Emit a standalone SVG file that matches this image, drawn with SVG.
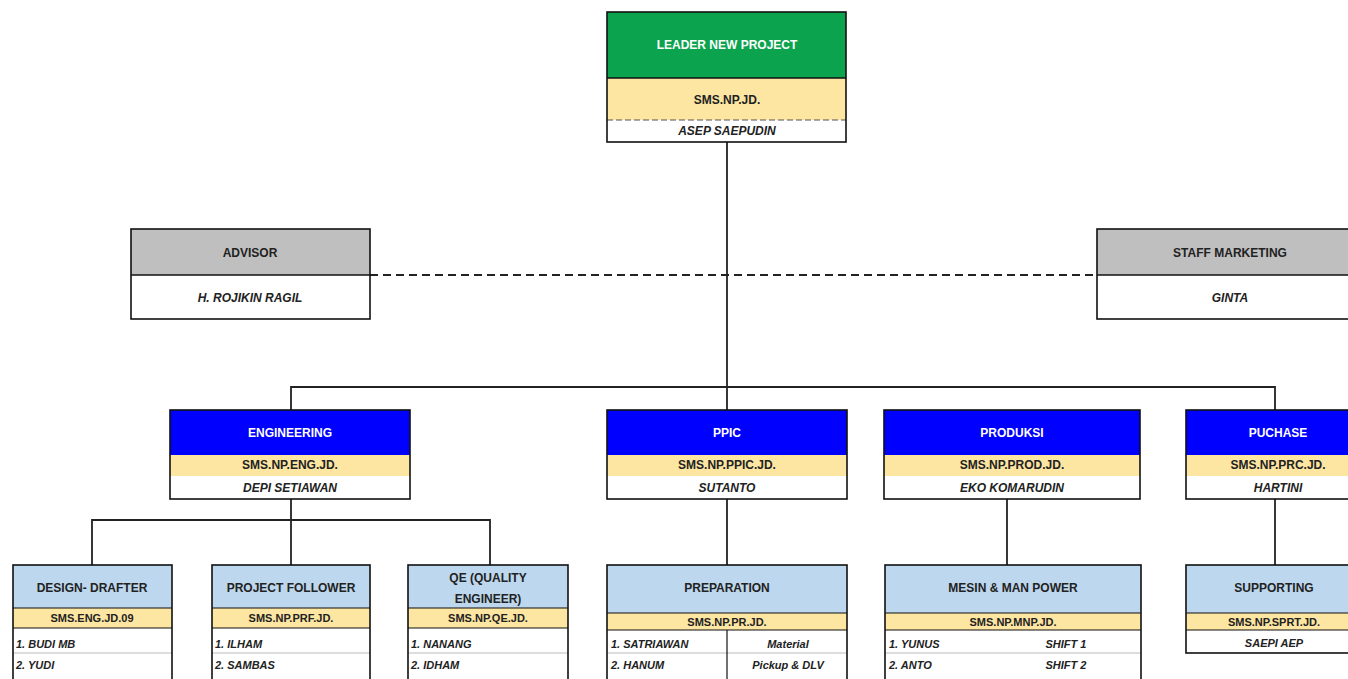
<svg xmlns="http://www.w3.org/2000/svg" width="1348" height="679" viewBox="0 0 1348 679">
<style>
.b{stroke:#111;stroke-width:1.6;fill:none}
.g{fill:#0BA34E}.y{fill:#FDE6A2}.w{fill:#fff}.gr{fill:#BFBFBF}.bl{fill:#0000FF}.lb{fill:#BDD7EE}
.t{font-family:"Liberation Sans",Arial,sans-serif;font-weight:bold;font-size:12px;text-anchor:middle;fill:#222}
.tw{fill:#fff}
.i{font-style:italic}
.s{font-size:11px}
.l{text-anchor:start}
.c{stroke:#222;stroke-width:1.8;fill:none}
.d{stroke:#222;stroke-width:1.8;fill:none;stroke-dasharray:8,5}
.sep{stroke:#bbb;stroke-width:1}
.ds{stroke:#555;stroke-width:1;stroke-dasharray:6,3}
</style>
<rect width="1348" height="679" fill="#fff"/>
<g id="connectors">
<line class="c" x1="727" y1="142" x2="727" y2="565"/>
<line class="d" x1="370" y1="275" x2="1097" y2="275"/>
<polyline class="c" points="291,410 291,387 1275,387 1275,410"/>
<line class="c" x1="291" y1="499" x2="291" y2="565"/>
<polyline class="c" points="92,565 92,520 490,520 490,565"/>
<line class="c" x1="1007" y1="499" x2="1007" y2="565"/>
<line class="c" x1="1275" y1="499" x2="1275" y2="565"/>
</g>
<g id="leader">
<rect class="g" x="607" y="12" width="239" height="66"/>
<rect class="y" x="607" y="78" width="239" height="42"/>
<rect class="w" x="607" y="120" width="239" height="22"/>
<line class="ds" x1="607" y1="120" x2="846" y2="120"/>
<line x1="607" y1="78" x2="846" y2="78" stroke="#111" stroke-width="1.4"/>
<rect class="b" x="607" y="12" width="239" height="130"/>
<text class="t tw" x="727" y="49">LEADER NEW PROJECT</text>
<text class="t" x="727" y="104">SMS.NP.JD.</text>
<text class="t i" x="727" y="135">ASEP SAEPUDIN</text>
</g>
<g id="advisor">
<rect class="gr" x="131" y="229" width="239" height="46"/>
<rect class="w" x="131" y="275" width="239" height="44"/>
<line x1="131" y1="275" x2="370" y2="275" stroke="#111" stroke-width="1.6"/>
<rect class="b" x="131" y="229" width="239" height="90"/>
<text class="t" x="250" y="257">ADVISOR</text>
<text class="t i" x="250" y="302">H. ROJIKIN RAGIL</text>
</g>
<g id="staff-marketing">
<rect class="gr" x="1097" y="229" width="266" height="46"/>
<rect class="w" x="1097" y="275" width="266" height="44"/>
<line x1="1097" y1="275" x2="1363" y2="275" stroke="#111" stroke-width="1.6"/>
<rect class="b" x="1097" y="229" width="266" height="90"/>
<text class="t" x="1230" y="257">STAFF MARKETING</text>
<text class="t i" x="1230" y="302">GINTA</text>
</g>
<g id="engineering">
<rect class="bl" x="170" y="410" width="240" height="45"/>
<rect class="y" x="170" y="455" width="240" height="21"/>
<rect class="w" x="170" y="476" width="240" height="23"/>
<rect class="b" x="170" y="410" width="240" height="89"/>
<text class="t tw" x="290" y="437">ENGINEERING</text>
<text class="t" x="290" y="469">SMS.NP.ENG.JD.</text>
<text class="t i" x="290" y="492">DEPI SETIAWAN</text>
</g>
<g id="ppic">
<rect class="bl" x="607" y="410" width="240" height="45"/>
<rect class="y" x="607" y="455" width="240" height="21"/>
<rect class="w" x="607" y="476" width="240" height="23"/>
<rect class="b" x="607" y="410" width="240" height="89"/>
<text class="t tw" x="727" y="437">PPIC</text>
<text class="t" x="727" y="469">SMS.NP.PPIC.JD.</text>
<text class="t i" x="727" y="492">SUTANTO</text>
</g>
<g id="produksi">
<rect class="bl" x="884" y="410" width="256" height="45"/>
<rect class="y" x="884" y="455" width="256" height="21"/>
<rect class="w" x="884" y="476" width="256" height="23"/>
<rect class="b" x="884" y="410" width="256" height="89"/>
<text class="t tw" x="1012" y="437">PRODUKSI</text>
<text class="t" x="1012" y="469">SMS.NP.PROD.JD.</text>
<text class="t i" x="1012" y="492">EKO KOMARUDIN</text>
</g>
<g id="puchase">
<rect class="bl" x="1186" y="410" width="184" height="45"/>
<rect class="y" x="1186" y="455" width="184" height="21"/>
<rect class="w" x="1186" y="476" width="184" height="23"/>
<rect class="b" x="1186" y="410" width="184" height="89"/>
<text class="t tw" x="1278" y="437">PUCHASE</text>
<text class="t" x="1278" y="469">SMS.NP.PRC.JD.</text>
<text class="t i" x="1278" y="492">HARTINI</text>
</g>
<g id="design-drafter">
<rect class="lb" x="13" y="565" width="159" height="43"/>
<rect class="y" x="13" y="608" width="159" height="20"/>
<rect class="w" x="13" y="628" width="159" height="62"/>
<line class="sep" x1="13" y1="653" x2="172" y2="653"/>
<line x1="13" y1="608" x2="172" y2="608" stroke="#111" stroke-width="1.2"/>
<line x1="13" y1="628" x2="172" y2="628" stroke="#111" stroke-width="1.2"/>
<rect class="b" x="13" y="565" width="159" height="125"/>
<text class="t" x="92" y="592">DESIGN- DRAFTER</text>
<text class="t s" x="92" y="622">SMS.ENG.JD.09</text>
<text class="t s i l" x="16" y="648">1. BUDI MB</text>
<text class="t s i l" x="16" y="669">2. YUDI</text>
</g>
<g id="project-follower">
<rect class="lb" x="212" y="565" width="158" height="43"/>
<rect class="y" x="212" y="608" width="158" height="20"/>
<rect class="w" x="212" y="628" width="158" height="62"/>
<line class="sep" x1="212" y1="653" x2="370" y2="653"/>
<line x1="212" y1="608" x2="370" y2="608" stroke="#111" stroke-width="1.2"/>
<line x1="212" y1="628" x2="370" y2="628" stroke="#111" stroke-width="1.2"/>
<rect class="b" x="212" y="565" width="158" height="125"/>
<text class="t" x="291" y="592">PROJECT FOLLOWER</text>
<text class="t s" x="291" y="622">SMS.NP.PRF.JD.</text>
<text class="t s i l" x="215" y="648">1. ILHAM</text>
<text class="t s i l" x="215" y="669">2. SAMBAS</text>
</g>
<g id="qe">
<rect class="lb" x="408" y="565" width="160" height="43"/>
<rect class="y" x="408" y="608" width="160" height="20"/>
<rect class="w" x="408" y="628" width="160" height="62"/>
<line class="sep" x1="408" y1="653" x2="568" y2="653"/>
<line x1="408" y1="608" x2="568" y2="608" stroke="#111" stroke-width="1.2"/>
<line x1="408" y1="628" x2="568" y2="628" stroke="#111" stroke-width="1.2"/>
<rect class="b" x="408" y="565" width="160" height="125"/>
<text class="t" x="488" y="582">QE (QUALITY</text>
<text class="t" x="488" y="603">ENGINEER)</text>
<text class="t s" x="488" y="622">SMS.NP.QE.JD.</text>
<text class="t s i l" x="411" y="648">1. NANANG</text>
<text class="t s i l" x="411" y="669">2. IDHAM</text>
</g>
<g id="preparation">
<rect class="lb" x="607" y="565" width="240" height="48"/>
<rect class="y" x="607" y="613" width="240" height="17"/>
<rect class="w" x="607" y="630" width="240" height="60"/>
<line class="sep" x1="607" y1="653" x2="847" y2="653"/>
<line x1="607" y1="613" x2="847" y2="613" stroke="#111" stroke-width="1.2"/>
<line x1="607" y1="630" x2="847" y2="630" stroke="#111" stroke-width="1.2"/>
<line x1="727" y1="630" x2="727" y2="690" stroke="#111" stroke-width="1.2"/>
<rect class="b" x="607" y="565" width="240" height="125"/>
<text class="t" x="727" y="592">PREPARATION</text>
<text class="t s" x="727" y="626">SMS.NP.PR.JD.</text>
<text class="t s i l" x="611" y="648">1. SATRIAWAN</text>
<text class="t s i l" x="611" y="669">2. HANUM</text>
<text class="t s i" x="788" y="648">Material</text>
<text class="t s i" x="788" y="669">Pickup &amp; DLV</text>
</g>
<g id="mesin-man-power">
<rect class="lb" x="885" y="565" width="256" height="48"/>
<rect class="y" x="885" y="613" width="256" height="17"/>
<rect class="w" x="885" y="630" width="256" height="60"/>
<line class="sep" x1="885" y1="653" x2="1141" y2="653"/>
<line x1="885" y1="613" x2="1141" y2="613" stroke="#111" stroke-width="1.2"/>
<line x1="885" y1="630" x2="1141" y2="630" stroke="#111" stroke-width="1.2"/>
<rect class="b" x="885" y="565" width="256" height="125"/>
<text class="t" x="1013" y="592">MESIN &amp; MAN POWER</text>
<text class="t s" x="1013" y="626">SMS.NP.MNP.JD.</text>
<text class="t s i l" x="889" y="648">1. YUNUS</text>
<text class="t s i l" x="889" y="669">2. ANTO</text>
<text class="t s i" x="1066" y="648">SHIFT 1</text>
<text class="t s i" x="1066" y="669">SHIFT 2</text>
</g>
<g id="supporting">
<rect class="lb" x="1186" y="565" width="176" height="48"/>
<rect class="y" x="1186" y="613" width="176" height="17"/>
<rect class="w" x="1186" y="630" width="176" height="23"/>
<line x1="1186" y1="613" x2="1362" y2="613" stroke="#111" stroke-width="1.2"/>
<line x1="1186" y1="630" x2="1362" y2="630" stroke="#111" stroke-width="1.2"/>
<rect class="b" x="1186" y="565" width="176" height="88"/>
<text class="t" x="1274" y="592">SUPPORTING</text>
<text class="t s" x="1274" y="626">SMS.NP.SPRT.JD.</text>
<text class="t s i" x="1274" y="647">SAEPI AEP</text>
</g>
</svg>
